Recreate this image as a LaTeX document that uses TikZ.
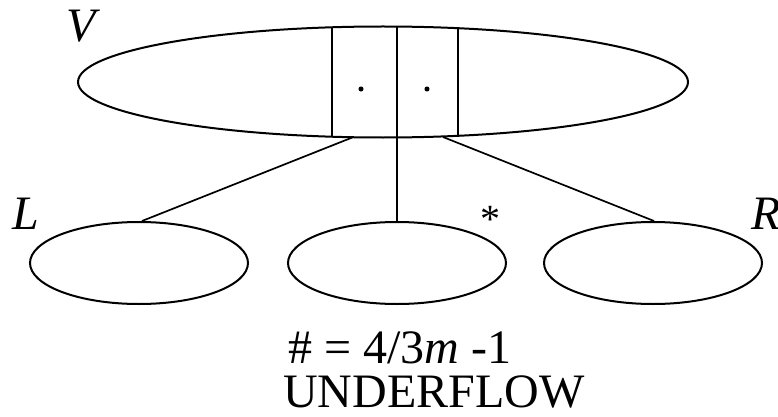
\documentclass[tikz,border=0pt]{standalone}
\usepackage{fontspec}
\setmainfont{Liberation Serif}
\usetikzlibrary{shapes.geometric}
\begin{document}
\begin{tikzpicture}[x=1pt,y=-1pt,
  oval/.style={draw,ellipse,inner sep=0pt,line width=2pt},
  link/.style={line width=1.7pt},
  lbl/.style={inner sep=0pt,font=\fontsize{48}{44}\selectfont}]
\useasboundingbox (0,0) rectangle (778,417);
\node[oval,minimum width=610pt,minimum height=111pt] (big) at (383,82) {};
\node[oval,minimum width=218pt,minimum height=82pt] (lft) at (139,263) {};
\node[oval,minimum width=218pt,minimum height=82pt] (mid) at (397,263) {};
\node[oval,minimum width=218pt,minimum height=82pt] (rgt) at (653,263) {};
% slot lines
\coordinate (a1) at (332,27.6);
\coordinate (a2) at (332,136.4);
\coordinate (b1) at (397,26.7);
\coordinate (b2) at (397,137.3);
\coordinate (c1) at (458,28.5);
\coordinate (c2) at (458,135.5);
\coordinate (ls) at (353,137.2);
\coordinate (rs) at (443,137.0);
\draw[link] (a1) -- (a2);
\draw[link] (b1) -- (b2);
\draw[link] (c1) -- (c2);
\node[circle,fill,inner sep=1.8pt] (d1) at (361,89) {};
\node[circle,fill,inner sep=1.8pt] (d2) at (427,89) {};
% connectors
\draw[link] (ls) -- ([xshift=3pt]lft.north);
\draw[link] (b2) -- (mid.north);
\draw[link] (rs) -- ([xshift=1pt]rgt.north);
% labels
\node[lbl,anchor=base west] (V) at (66,42) {\itshape V};
\node[lbl,anchor=base west] (L) at (12,229) {\itshape L};
\node[lbl,anchor=base west] (R) at (751,229) {\itshape R};
\node[lbl,anchor=base,font=\fontsize{40}{40}\selectfont] (star) at (490,232) {*};
\node[lbl,anchor=base west] (f1) at (288,363) {\# = 4/3\textit{m} -1};
\node[lbl,anchor=base west] (f2) at (283,407) {UNDERFLOW};
\end{tikzpicture}
\end{document}
